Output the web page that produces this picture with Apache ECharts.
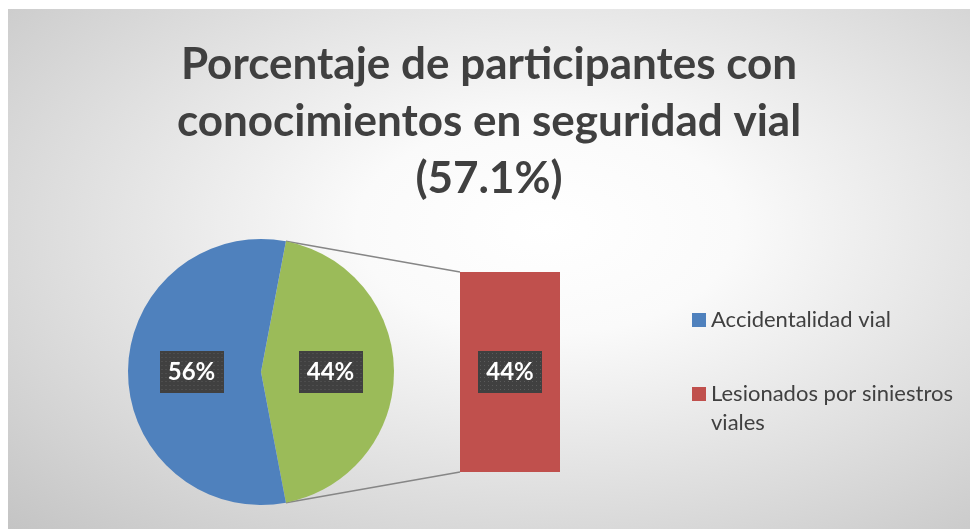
<!DOCTYPE html>
<html>
<head>
<meta charset="utf-8">
<script src="https://cdn.jsdelivr.net/npm/echarts@6/dist/echarts.min.js"></script>
<style>
  html, body { margin: 0; padding: 0; background: #fff; }
  #chart {
    position: absolute; left: 8px; top: 9px; width: 962px; height: 520px;
    background: radial-gradient(ellipse farthest-corner at 56% 42%, #ffffff 0%, #fafafa 25%, #c4c4c4 100%);
  }
</style>
</head>
<body>
<div id="chart"></div>
<script>
// Bar of pie: "Otro" slice is broken out into the bar on the right

const titleLines = ['Porcentaje de participantes con', 'conocimientos en seguridad vial', '(57.1%)'];
const pieNames = ['Otro', 'Accidentalidad vial'];
const pieValues = [44, 56];
const barNames = ['Lesionados por siniestros viales'];
const barValues = [44];
const legendNames = ['Accidentalidad vial', 'Lesionados por siniestros viales'];

const pieColors = ['#9BBB59', '#4F81BD'];
const barColor = '#C0504D';

// layout (px, inside the chart div)
const pieCenter = [253, 363];
const pieR = 133;
const barBox = { left: 452, top: 263, width: 100, height: 200 };

// dotted dark tag used behind data labels
function makeDotTag(w, h) {
  const c = document.createElement('canvas');
  c.width = w; c.height = h;
  const ctx = c.getContext('2d');
  ctx.fillStyle = '#404040';
  ctx.fillRect(0, 0, w, h);
  ctx.fillStyle = '#5a5a5a';
  for (let x = 2; x < w; x += 4) {
    for (let y = 2; y < h; y += 4) {
      ctx.fillRect(x, y, 1, 1);
    }
  }
  return c;
}

const tagLabel = {
  show: true,
  position: 'inside',
  formatter: '{c}%',
  color: '#ffffff',
  fontFamily: 'Lato',
  fontWeight: 'bold',
  fontSize: 24,
  width: 64,
  height: 42,
  lineHeight: 42,
  align: 'center',
  verticalAlign: 'middle',
  backgroundColor: { image: makeDotTag(64, 42) },
  shadowBlur: 6,
  shadowColor: 'rgba(0,0,0,0.55)',
  shadowOffsetX: 3,
  shadowOffsetY: 3
};

const legendText = { fontFamily: 'Lato', fontSize: 22, lineHeight: 22, color: '#404040' };

// connector lines from the "Otro" slice edges to the bar corners
const total = pieValues.reduce((a, b) => a + b, 0);
const halfAngle = pieValues[0] / total * Math.PI;
const edgeX = pieCenter[0] + pieR * Math.cos(halfAngle);
const edgeDy = pieR * Math.sin(halfAngle);

const chart = echarts.init(document.getElementById('chart'));

chart.setOption({
  animation: false,
  title: {
    text: titleLines.join('\n'),
    left: 'center',
    top: 27,
    padding: [0, 0, 0, 25],
    textStyle: {
      fontFamily: 'Lato',
      fontWeight: 'bold',
      fontSize: 44,
      lineHeight: 57,
      color: '#404040'
    }
  },
  legend: [
    {
      data: [legendNames[0]],
      left: 684, top: 300, padding: 0,
      icon: 'rect', itemWidth: 14, itemHeight: 14, itemGap: 5,
      selectedMode: false,
      textStyle: legendText
    },
    {
      data: [legendNames[1]],
      left: 684, top: 374, padding: 0,
      icon: 'rect', itemWidth: 14, itemHeight: 14,
      selectedMode: false,
      formatter: () => 'Lesionados por siniestros',
      textStyle: legendText
    }
  ],
  graphic: [
    {
      type: 'text', left: 703, top: 403,
      style: { text: 'viales', fontFamily: 'Lato', fontSize: 22, fill: '#404040' }
    },
    {
      type: 'line', z: 1,
      shape: { x1: edgeX, y1: pieCenter[1] - edgeDy, x2: barBox.left, y2: barBox.top },
      style: { stroke: '#868686', lineWidth: 1.5 }
    },
    {
      type: 'line', z: 1,
      shape: { x1: edgeX, y1: pieCenter[1] + edgeDy, x2: barBox.left, y2: barBox.top + barBox.height },
      style: { stroke: '#868686', lineWidth: 1.5 }
    }
  ],
  grid: {
    left: barBox.left, top: barBox.top, width: barBox.width, height: barBox.height
  },
  xAxis: { type: 'category', data: barNames, show: false },
  yAxis: { type: 'value', min: 0, max: barValues[0], show: false },
  series: [
    {
      type: 'pie',
      center: pieCenter,
      radius: pieR,
      startAngle: pieValues[0] / total * 180,
      clockwise: true,
      emphasis: { scale: false },
      label: tagLabel,
      labelLine: { show: false },
      data: pieNames.map((n, i) => ({
        name: n, value: pieValues[i], itemStyle: { color: pieColors[i] }
      }))
    },
    {
      type: 'bar',
      name: barNames[0],
      barWidth: '100%',
      itemStyle: { color: barColor },
      label: tagLabel,
      data: barValues
    }
  ]
});
</script>
</body>
</html>
